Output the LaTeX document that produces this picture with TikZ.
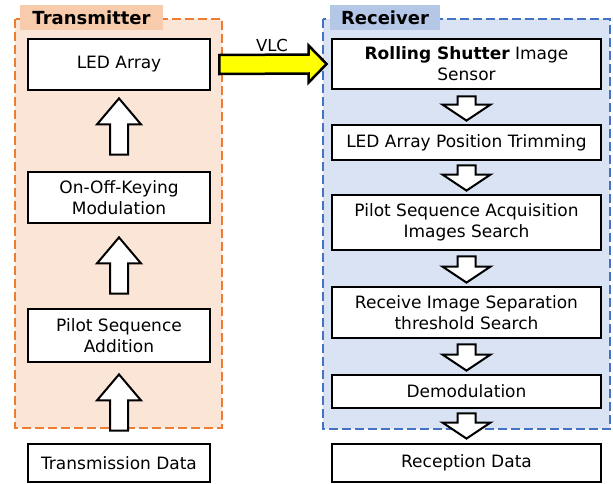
\documentclass[tikz,border=0pt]{standalone}
\usepackage{fontspec}
\setmainfont{DejaVu Sans}
\usetikzlibrary{calc}

\definecolor{txfill}{RGB}{251,229,214}
\definecolor{txline}{RGB}{237,125,49}
\definecolor{txtab}{RGB}{248,203,173}
\definecolor{rxfill}{RGB}{218,227,243}
\definecolor{rxline}{RGB}{68,114,196}
\definecolor{rxtab}{RGB}{180,199,231}
\definecolor{vlcyellow}{RGB}{255,255,0}

\tikzset{
  stagebox/.style={draw=black, line width=2.8pt, fill=white, align=center,
    inner sep=0pt, font=\fontsize{17}{21}\selectfont},
  txstage/.style={stagebox, minimum width=182pt},
  rxstage/.style={stagebox, minimum width=269pt},
  group/.style={line width=2.8pt, dash pattern=on 9pt off 4pt},
  grouptab/.style={inner sep=0pt, minimum height=25pt,
    font=\fontsize{18}{20}\selectfont\bfseries},
  blkarrow/.style={draw=black, line width=2pt, fill=white, line join=miter},
  vlcarrow/.style={draw=black, line width=2.5pt, fill=vlcyellow, line join=miter},
}

% hollow block arrow pointing up, from the top of #1 to the bottom of #2
\newcommand\uparrowblk[4]{%
  \draw[blkarrow] ($(#1.north)+(-9,-#3)$) -- ($(#2.south)+(-9,#4+26)$)
    -- ($(#2.south)+(-22,#4+26)$) -- ($(#2.south)+(0,#4)$)
    -- ($(#2.south)+(22,#4+26)$) -- ($(#2.south)+(9,#4+26)$)
    -- ($(#1.north)+(9,-#3)$) -- cycle;}
% hollow block arrow pointing down, from the bottom of #1 to the top of #2
\newcommand\downarrowblk[4]{%
  \draw[blkarrow] ($(#1.south)+(-9,#3)$) -- ($(#2.north)+(-9,-#4-16)$)
    -- ($(#2.north)+(-24,-#4-16)$) -- ($(#2.north)+(0,-#4)$)
    -- ($(#2.north)+(24,-#4-16)$) -- ($(#2.north)+(9,-#4-16)$)
    -- ($(#1.south)+(9,#3)$) -- cycle;}

\begin{document}
\begin{tikzpicture}[x=1pt, y=-1pt]
\useasboundingbox (0,0) rectangle (613,483);

% group backgrounds
\draw[group, draw=txline, fill=txfill] (15,19) rectangle (222,428);
\draw[group, draw=rxline, fill=rxfill] (323,19) rectangle (610,429);
\node[grouptab, fill=txtab, minimum width=143pt] (txtitle) at (91.5,17.5) {Transmitter};
\node[grouptab, fill=rxtab, minimum width=110pt] (rxtitle) at (385,17.5) {Receiver};

% transmitter chain
\node[txstage, minimum height=51pt] (led) at (119,64.5) {LED Array};
\node[txstage, minimum height=51pt] (ook) at (119,197.5) {On-Off-Keying\\Modulation};
\node[txstage, minimum height=53pt] (pilot) at (119,335.5) {Pilot Sequence\\Addition};
\node[txstage, minimum height=38pt] (tdata) at (119,463) {Transmission Data};

% receiver chain
\node[rxstage, minimum height=50pt] (rs) at (466.5,64) {\textbf{Rolling Shutter} Image\\Sensor};
\node[rxstage, minimum height=35pt] (trim) at (466.5,142.5) {LED Array Position Trimming};
\node[rxstage, minimum height=55pt] (acq) at (466.5,222.5) {Pilot Sequence Acquisition\\Images Search};
\node[rxstage, minimum height=51pt] (sep) at (466.5,312.5) {Receive Image Separation\\threshold Search};
\node[rxstage, minimum height=33pt] (demod) at (466.5,391.5) {Demodulation};
\node[rxstage, minimum height=38pt] (rdata) at (466.5,463) {Reception Data};

% transmitter flow (upwards)
\uparrowblk{tdata}{pilot}{12}{11}
\uparrowblk{pilot}{ook}{14}{13}
\uparrowblk{ook}{led}{16}{7}

% receiver flow (downwards)
\downarrowblk{rs}{trim}{6}{3}
\downarrowblk{trim}{acq}{4}{3}
\downarrowblk{acq}{sep}{5}{3}
\downarrowblk{sep}{demod}{5}{3}
\downarrowblk{demod}{rdata}{4}{4}

% optical link
\draw[vlcarrow] ($(led.east)+(8,-9.5)$) -- ($(rs.west)+(-22,-9.5)$)
  -- ($(rs.west)+(-22,-18.5)$) -- ($(rs.west)+(-4,0)$)
  -- ($(rs.west)+(-22,18.5)$) -- ($(rs.west)+(-22,9.5)$)
  -- ($(led.east)+(8,9.5)$) -- cycle;
\node[font=\fontsize{16.5}{18}\selectfont] (vlc) at (272,45) {VLC};
\end{tikzpicture}
\end{document}
